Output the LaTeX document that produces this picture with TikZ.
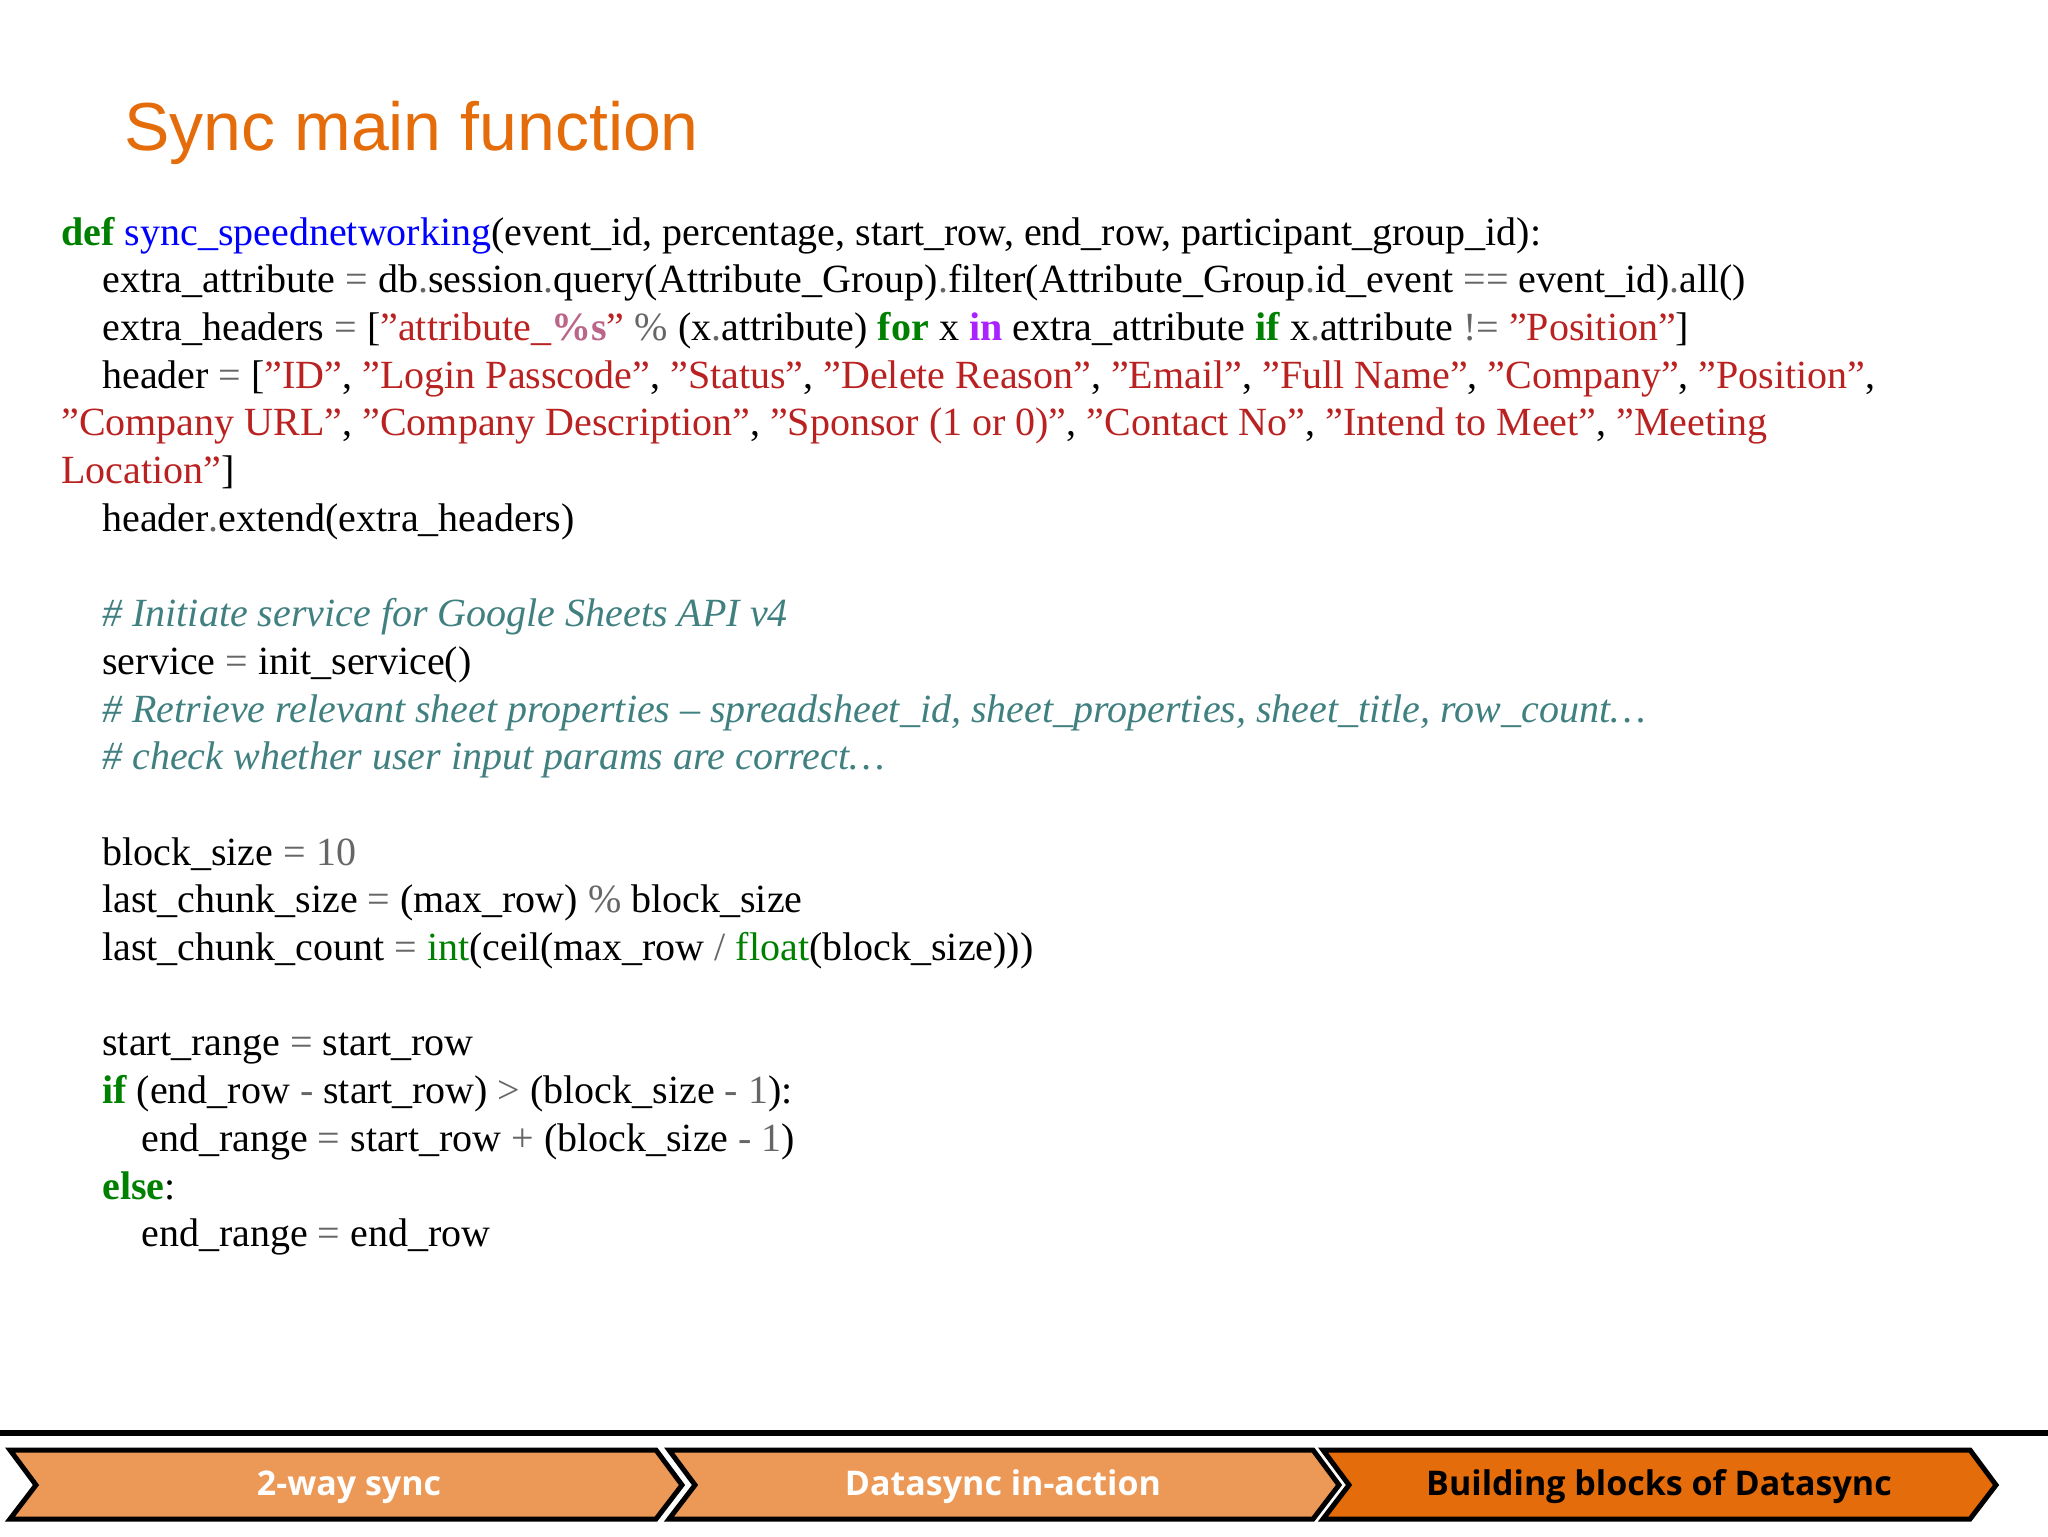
\documentclass[tikz,border=0pt]{standalone}
\usepackage{fontspec}
\setmainfont{Liberation Serif}
\newfontfamily\titlefont{Liberation Sans}
\newfontfamily\barfont{Open Sans}
\definecolor{kwc}{RGB}{0,128,0}
\definecolor{fnc}{RGB}{0,0,255}
\definecolor{stc}{RGB}{186,33,33}
\definecolor{cmc}{RGB}{64,128,128}
\definecolor{opc}{RGB}{102,102,102}
\definecolor{sxc}{RGB}{187,102,136}
\definecolor{puc}{RGB}{170,34,255}
\definecolor{ttl}{RGB}{228,108,10}
\definecolor{barlt}{RGB}{236,152,86}
\definecolor{bardk}{RGB}{228,108,10}
\newcommand{\kw}[1]{\textcolor{kwc}{\bfseries #1}}
\newcommand{\fnn}[1]{\textcolor{fnc}{#1}}
\newcommand{\st}[1]{\textcolor{stc}{#1}}
\newcommand{\cm}[1]{\textcolor{cmc}{\itshape #1}}
\newcommand{\op}[1]{\textcolor{opc}{#1}}
\newcommand{\sx}[1]{\textcolor{sxc}{\bfseries #1}}
\newcommand{\pu}[1]{\textcolor{puc}{\bfseries #1}}
\newcommand{\bi}[1]{\textcolor{kwc}{#1}}
\begin{document}
\begin{tikzpicture}[x=0.5pt,y=-0.5pt,
  code/.style={anchor=base west,inner sep=0,font=\fontsize{20}{24}\selectfont},
  chev/.style={draw=black,line width=2.5pt,line join=miter},
  bartext/.style={font=\barfont\bfseries\fontsize{17}{20}\selectfont}]
\useasboundingbox (0,0) rectangle (2048,1536);
\fill[white] (0,0) rectangle (2048,1536);
\node[anchor=base west,inner sep=0,text=ttl,font=\titlefont\fontsize{34}{40}\selectfont] (title) at (124,150) {Sync main function};
\def\L{61}\def\I{102}\def\J{141}
\node[code] (l0) at (\L,245) {\kw{def} \fnn{sync\_speednetworking}(event\_id, percentage, start\_row, end\_row, participant\_group\_id):};
\node[code] (l1) at (\I,292.7) {extra\_attribute \op{=} db\op{.}session\op{.}query(Attribute\_Group)\op{.}filter(Attribute\_Group\op{.}id\_event \op{==} event\_id)\op{.}all()};
\node[code] (l2) at (\I,340.4) {extra\_headers \op{=} [\st{"attribute\_}\sx{\%s}\st{"} \op{\%} (x\op{.}attribute) \kw{for} x \pu{in} extra\_attribute \kw{if} x\op{.}attribute \op{!=} \st{"Position"}]};
\node[code] (l3) at (\I,388.1) {header \op{=} [\st{"ID"}, \st{"Login Passcode"}, \st{"Status"}, \st{"Delete Reason"}, \st{"Email"}, \st{"Full Name"}, \st{"Company"}, \st{"Position"},};
\node[code] (l4) at (\L,435.8) {\st{"Company URL"}, \st{"Company Description"}, \st{"Sponsor (1 or 0)"}, \st{"Contact No"}, \st{"Intend to Meet"}, \st{"Meeting}};
\node[code] (l5) at (\L,483.5) {\st{Location"}]};
\node[code] (l6) at (\I,531.2) {header\op{.}extend(extra\_headers)};
\node[code] (l8) at (\I,626.6) {\cm{\# Initiate service for Google Sheets API v4}};
\node[code] (l9) at (\I,674.3) {service \op{=} init\_service()};
\node[code] (l10) at (\I,722) {\cm{\# Retrieve relevant sheet properties – spreadsheet\_id, sheet\_properties, sheet\_title, row\_count…}};
\node[code] (l11) at (\I,769.7) {\cm{\# check whether user input params are correct…}};
\node[code] (l13) at (\I,865.1) {block\_size \op{=} \op{10}};
\node[code] (l14) at (\I,912.8) {last\_chunk\_size \op{=} (max\_row) \op{\%} block\_size};
\node[code] (l15) at (\I,960.5) {last\_chunk\_count \op{=} \bi{int}(ceil(max\_row \op{/} \bi{float}(block\_size)))};
\node[code] (l17) at (\I,1055.9) {start\_range \op{=} start\_row};
\node[code] (l18) at (\I,1103.6) {\kw{if} (end\_row \op{-} start\_row) \op{>} (block\_size \op{-} \op{1}):};
\node[code] (l19) at (\J,1151.3) {end\_range \op{=} start\_row \op{+} (block\_size \op{-} \op{1})};
\node[code] (l20) at (\I,1199) {\kw{else}:};
\node[code] (l21) at (\J,1246.7) {end\_range \op{=} end\_row};
% bottom bar
\fill[black] (0,1430) rectangle (2048,1436);
\draw[chev,fill=barlt] (10,1450) -- (656,1450) -- (682,1485) -- (656,1519) -- (10,1519) -- (36,1485) -- cycle;
\draw[chev,fill=barlt] (669,1450) -- (1313,1450) -- (1339,1485) -- (1313,1519) -- (669,1519) -- (695,1485) -- cycle;
\draw[chev,fill=bardk] (1323,1450) -- (1970,1450) -- (1996,1485) -- (1970,1519) -- (1323,1519) -- (1349,1485) -- cycle;
\node[bartext,text=white] (b1) at (349,1487) {2-way sync};
\node[bartext,text=white] (b2) at (1003,1487) {Datasync in-action};
\node[bartext,text=black] (b3) at (1659,1487) {Building blocks of Datasync};
\end{tikzpicture}
\end{document}
